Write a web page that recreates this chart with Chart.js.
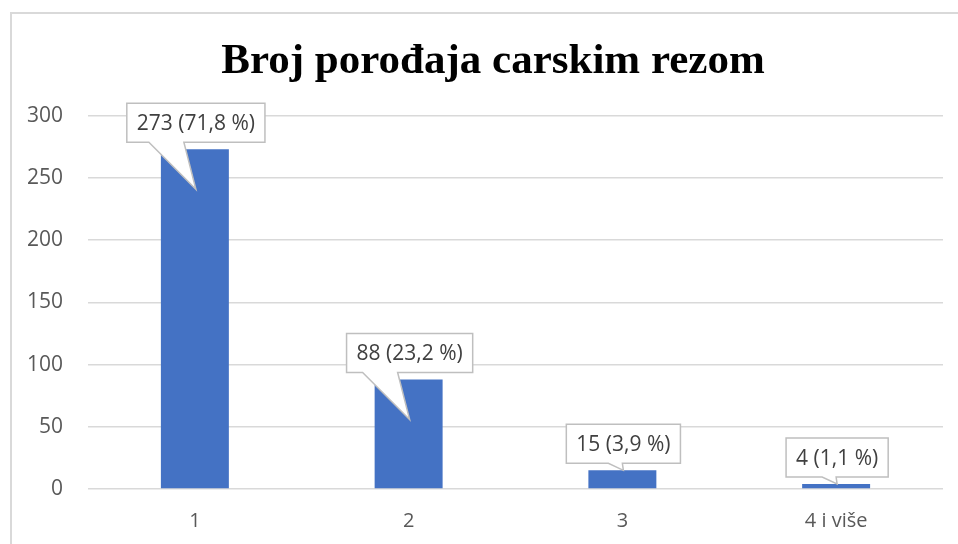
<!DOCTYPE html>
<html>
<head>
<meta charset="utf-8">
<script src="https://cdn.jsdelivr.net/npm/chart.js@4"></script>
<style>
  html, body { margin: 0; padding: 0; background: #fff; overflow: hidden; }
  #frame {
    position: absolute; left: 10px; top: 12px;
    width: 962px; height: 540px;
    border: 2px solid #d9d9d9; background: #fff;
  }
  #chart { display: block; }
</style>
</head>
<body>
<div id="frame"><canvas id="chart" width="962" height="540"></canvas></div>
<script>
const categories = ['1', '2', '3', '4 i više'];
const counts = [273, 88, 15, 4];
const percents = ['71,8', '23,2', '3,9', '1,1'];
const yTicks = [0, 50, 100, 150, 200, 250, 300];

const barColor = '#4472C4';
const tickColor = '#595959';

// callout boxes above each bar, pointing down into it
const calloutPlugin = {
  id: 'callouts',
  afterDatasetsDraw(chart) {
    const ctx = chart.ctx;
    const meta = chart.getDatasetMeta(0);
    ctx.save();
    ctx.font = '21px "Open Sans"';
    meta.data.forEach((bar, i) => {
      const text = `${counts[i]} (${percents[i]} %)`;
      const w = ctx.measureText(text).width + 20;
      const h = 39;
      const cx = bar.x + 1;
      const bottom = bar.y - 7;
      const top = bottom - h;
      const left = cx - w / 2;
      const right = cx + w / 2;
      const tall = bar.base - bar.y > 40;
      const tipX = cx;
      const tipY = tall ? bar.y + 40 : bar.y;
      const b1 = tall ? tipX - 47 : tipX - 15;
      const b2 = tall ? tipX - 12 : tipX - 1;

      ctx.beginPath();
      ctx.moveTo(left, top);
      ctx.lineTo(right, top);
      ctx.lineTo(right, bottom);
      ctx.lineTo(b2, bottom);
      ctx.lineTo(tipX, tipY);
      ctx.lineTo(b1, bottom);
      ctx.lineTo(left, bottom);
      ctx.closePath();
      ctx.fillStyle = '#ffffff';
      ctx.fill();
      ctx.lineWidth = 1.5;
      ctx.strokeStyle = '#bfbfbf';
      ctx.stroke();

      ctx.fillStyle = '#404040';
      ctx.textAlign = 'center';
      ctx.textBaseline = 'middle';
      ctx.fillText(text, cx, top + h / 2 + 1);
    });
    ctx.restore();
  }
};

new Chart(document.getElementById('chart'), {
  type: 'bar',
  data: {
    labels: categories,
    datasets: [{
      data: counts,
      backgroundColor: barColor,
      borderWidth: 0,
      barPercentage: 1,
      categoryPercentage: 0.318
    }]
  },
  plugins: [calloutPlugin],
  options: {
    responsive: false,
    animation: false,
    layout: {
      padding: 0
    },
    plugins: {
      legend: { display: false },
      tooltip: { enabled: false },
      title: {
        display: true,
        text: 'Broj porođaja carskim rezom',
        color: '#000000',
        font: { family: '"Liberation Serif"', size: 43, weight: 'bold', lineHeight: 1.2 },
        padding: { top: 22, bottom: 28 }
      }
    },
    scales: {
      x: {
        afterFit: (scale) => { scale.height = 65; },
        grid: { display: false, drawTicks: false },
        border: { display: false },
        ticks: {
          color: tickColor,
          font: { family: '"Open Sans"', size: 20 },
          padding: 20
        }
      },
      y: {
        min: 0,
        max: 300,
        afterBuildTicks: (scale) => {
          scale.ticks = yTicks.map(v => ({ value: v }));
        },
        afterFit: (scale) => { scale.width = 76; },
        grid: { color: '#d9d9d9', lineWidth: 1.5, drawTicks: false },
        border: { display: false },
        ticks: {
          color: tickColor,
          font: { family: '"Open Sans"', size: 21 },
          padding: 25
        }
      },
      // empty spacer on the right so the plot ends before the frame edge
      yRight: {
        position: 'right',
        afterFit: (scale) => { scale.width = 31; },
        grid: { display: false, drawTicks: false },
        border: { display: false },
        ticks: { display: false }
      }
    }
  }
});
</script>
</body>
</html>
